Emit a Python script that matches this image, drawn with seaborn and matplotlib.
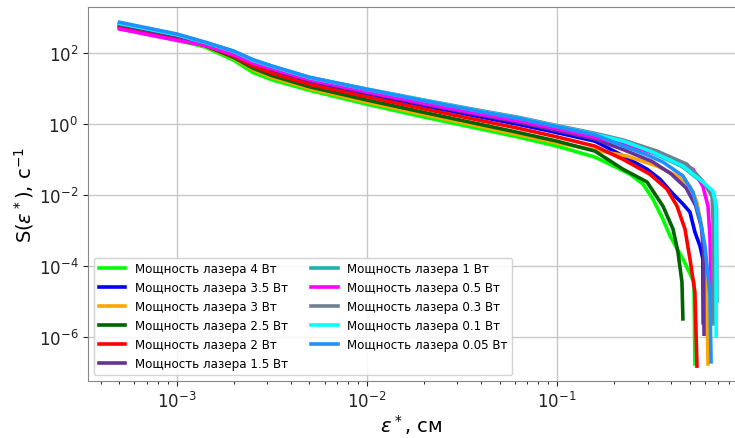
import numpy as np
import pandas as pd
import matplotlib
matplotlib.use("Agg")
import matplotlib.pyplot as plt
import matplotlib.ticker as mticker
import seaborn as sns

# values, stored as log10 exponents
body_x_log = [-3.3, -3.0, -2.85, -2.7, -2.6, -2.5, -2.3, -2.0, -1.7, -1.4, -1.2, -1.0, -0.8]

powers = ["4", "3.5", "3", "2.5", "2", "1.5", "1", "0.5", "0.3", "0.1", "0.05"]
colors = ["lime", "blue", "orange", "darkgreen", "red", "rebeccapurple",
          "lightseagreen", "magenta", "slategray", "cyan", "dodgerblue"]

body_4 = [2.69, 2.37, 2.17, 1.80, 1.46, 1.25, 0.95, 0.56, 0.20, -0.14, -0.37, -0.62, -0.93]
body_3_5 = [2.78, 2.46, 2.25, 1.96, 1.70, 1.51, 1.19, 0.85, 0.52, 0.20, -0.01, -0.24, -0.48]
body_3 = [2.72, 2.40, 2.20, 1.86, 1.54, 1.32, 1.00, 0.62, 0.27, -0.07, -0.30, -0.53, -0.73]
body_2_5 = [2.73, 2.41, 2.21, 1.88, 1.58, 1.37, 1.05, 0.68, 0.33, -0.01, -0.24, -0.48, -0.76]
body_2 = [2.75, 2.43, 2.23, 1.92, 1.64, 1.44, 1.12, 0.77, 0.43, 0.10, -0.12, -0.36, -0.62]
body_1_5 = [2.80, 2.48, 2.27, 1.99, 1.73, 1.55, 1.23, 0.89, 0.56, 0.25, 0.05, -0.18, -0.42]
body_1 = [2.84, 2.52, 2.29, 2.04, 1.79, 1.62, 1.30, 0.96, 0.64, 0.33, 0.14, -0.09, -0.33]
body_0_5 = [2.68, 2.36, 2.22, 1.95, 1.72, 1.56, 1.25, 0.91, 0.59, 0.28, 0.09, -0.13, -0.37]
body_0_3 = [2.85, 2.53, 2.30, 2.05, 1.81, 1.63, 1.31, 0.99, 0.68, 0.38, 0.19, -0.04, -0.26]
body_0_1 = [2.84, 2.52, 2.30, 2.05, 1.80, 1.63, 1.31, 0.98, 0.67, 0.36, 0.17, -0.06, -0.29]
body_0_05 = [2.87, 2.54, 2.31, 2.06, 1.82, 1.64, 1.32, 0.98, 0.66, 0.35, 0.16, -0.07, -0.30]

tail_x_4 = [-0.721, -0.616, -0.547, -0.495, -0.442, -0.405, -0.337, -0.279, -0.274]
tail_y_4 = [-1.13, -1.41, -1.69, -2.11, -2.68, -3.15, -3.80, -4.45, -6.76]
tail_x_3_5 = [-0.653, -0.526, -0.458, -0.389, -0.337, -0.300, -0.274, -0.247, -0.232, -0.230]
tail_y_3_5 = [-0.89, -1.27, -1.55, -1.97, -2.25, -2.48, -3.04, -3.44, -3.80, -5.60]
tail_x_3 = [-0.632, -0.474, -0.368, -0.300, -0.263, -0.237, -0.221, -0.211, -0.205]
tail_y_3 = [-0.90, -1.18, -1.46, -1.75, -2.20, -2.96, -3.80, -4.90, -6.76]
tail_x_2_5 = [-0.653, -0.526, -0.442, -0.389, -0.363, -0.342, -0.337]
tail_y_2_5 = [-1.27, -1.63, -2.31, -2.96, -3.61, -4.45, -5.49]
tail_x_2 = [-0.653, -0.511, -0.421, -0.368, -0.326, -0.300, -0.274, -0.263]
tail_y_2 = [-0.99, -1.41, -1.83, -2.31, -2.96, -3.80, -4.73, -6.82]
tail_x_1_5 = [-0.65, -0.50, -0.40, -0.32, -0.27, -0.24, -0.228, -0.226]
tail_y_1_5 = [-0.72, -1.05, -1.40, -1.80, -2.30, -2.90, -3.60, -5.92]
tail_x_1 = [-0.65, -0.50, -0.34, -0.23, -0.175, -0.16, -0.158]
tail_y_1 = [-0.52, -0.80, -1.20, -1.66, -1.95, -2.40, -4.99]
tail_x_0_5 = [-0.65, -0.50, -0.389, -0.284, -0.232, -0.205, -0.195, -0.184]
tail_y_0_5 = [-0.58, -0.80, -0.99, -1.27, -1.75, -2.31, -3.15, -5.30]
tail_x_0_3 = [-0.65, -0.474, -0.316, -0.232, -0.184, -0.179, -0.178]
tail_y_0_3 = [-0.45, -0.76, -1.13, -1.61, -2.03, -2.68, -5.63]
tail_x_0_1 = [-0.65, -0.50, -0.337, -0.232, -0.179, -0.163, -0.162]
tail_y_0_1 = [-0.48, -0.78, -1.18, -1.63, -1.89, -2.31, -5.97]
tail_x_0_05 = [-0.65, -0.52, -0.442, -0.337, -0.284, -0.247, -0.221, -0.195, -0.189]
tail_y_0_05 = [-0.62, -0.88, -1.07, -1.46, -1.92, -2.68, -3.44, -4.80, -6.70]

bodies = [body_4, body_3_5, body_3, body_2_5, body_2, body_1_5, body_1,
          body_0_5, body_0_3, body_0_1, body_0_05]
tails_x = [tail_x_4, tail_x_3_5, tail_x_3, tail_x_2_5, tail_x_2, tail_x_1_5, tail_x_1,
           tail_x_0_5, tail_x_0_3, tail_x_0_1, tail_x_0_05]
tails_y = [tail_y_4, tail_y_3_5, tail_y_3, tail_y_2_5, tail_y_2, tail_y_1_5, tail_y_1,
           tail_y_0_5, tail_y_0_3, tail_y_0_1, tail_y_0_05]

frames = []
for p, b, tx, ty in zip(powers, bodies, tails_x, tails_y):
    lx = np.array(body_x_log + tx)
    ly = np.array(b + ty)
    frames.append(pd.DataFrame({
        "eps": 10.0 ** lx,
        "S": 10.0 ** ly,
        "label": f"Мощность лазера {p} Вт",
    }))
df = pd.concat(frames, ignore_index=True)
labels = [f"Мощность лазера {p} Вт" for p in powers]

fig = plt.figure(figsize=(7.35, 4.39), dpi=100)
ax = fig.add_axes([88 / 735, 57 / 439, 1 - 88 / 735, (382 - 8) / 439])

sns.lineplot(data=df, x="eps", y="S", hue="label", hue_order=labels,
             palette=dict(zip(labels, colors)), sort=False, estimator=None,
             linewidth=2.6, ax=ax)

ax.set_xscale("log")
ax.set_yscale("log")
ax.set_xlim(10 ** -3.466, 10 ** -0.063)
ax.set_ylim(10 ** -7.24, 10 ** 3.30)
ax.set_yticks([1e-6, 1e-4, 1e-2, 1e0, 1e2])
ax.yaxis.set_minor_locator(mticker.NullLocator())
ax.xaxis.set_minor_locator(mticker.LogLocator(base=10, subs=np.arange(2, 10)))
ax.xaxis.set_minor_formatter(mticker.NullFormatter())

ax.grid(True, which="major", color="#c8c8c8", linewidth=1.0)
ax.set_axisbelow(True)
ax.tick_params(axis="both", which="major", labelsize=12, colors="#222222")
ax.spines["right"].set_visible(False)
for s in ["left", "bottom", "top"]:
    ax.spines[s].set_color("#888888")

ax.set_xlabel(r"$\varepsilon^*$, см", fontsize=14, labelpad=1)
ax.set_ylabel(r"S($\varepsilon^*$), c$^{-1}$", fontsize=14, labelpad=2)

handles, labs = ax.get_legend_handles_labels()
leg = ax.legend(handles, labs, ncol=2, loc="lower left", fontsize=8.6,
                handlelength=2.2, labelspacing=0.5, columnspacing=2.0,
                framealpha=0.85)
for line in leg.get_lines():
    line.set_linewidth(2.6)

fig.savefig("out.png", dpi=100)
